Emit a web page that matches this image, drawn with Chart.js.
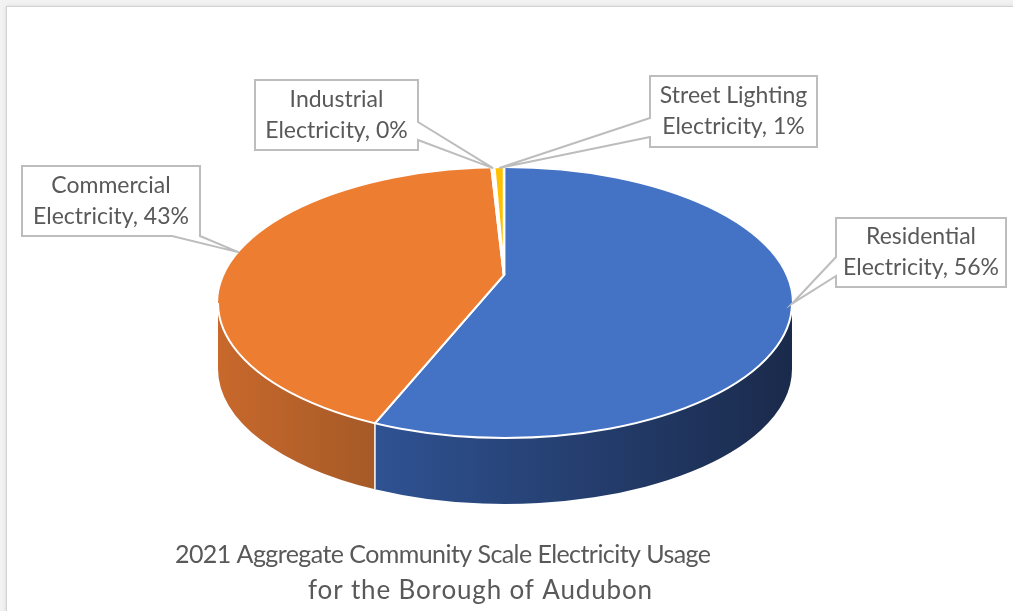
<!DOCTYPE html>
<html><head><meta charset="utf-8">
<script src="https://cdn.jsdelivr.net/npm/chart.js@4.4.1/dist/chart.umd.min.js"></script>
<style>
html,body{margin:0;padding:0;background:#f2f2f2;width:1013px;height:611px;overflow:hidden}
#frame{position:absolute;left:6px;top:6px;width:1013px;height:611px;background:#fff;border-left:1px solid #d2d2d2;border-top:1px solid #d2d2d2;box-shadow:0 0 4px rgba(0,0,0,0.10)}
canvas{position:absolute;left:0;top:0}
</style></head><body>
<div id="frame"></div>
<canvas id="c" width="1013" height="611"></canvas>
<script>
// ---- data ----
const categories = ['Residential Electricity', 'Commercial Electricity', 'Industrial Electricity', 'Street Lighting Electricity'];
const values = [56.4, 42.7, 0.2, 0.7];
const topColors = ['#4472C4', '#ED7D31', '#A5A5A5', '#FFC000'];
const sideLight = ['#2F5292', '#C8682C', '#8a8a8a', '#d9a300'];
const sideDark = ['#1A2A4B', '#A55A27', '#6e6e6e', '#b88a00'];
const titleLines = ['2021 Aggregate Community Scale Electricity Usage', 'for the Borough of Audubon'];

// ---- layout (positions/styles only) ----
const ELL = {cx: 505, cy: 303, rx: 287, ry: 135, depth: 66};   // visible top ellipse
const PROJ = {px: 504, py: 275, rx: 358, ry: 175};             // perspective apex of the top face
const callouts = [
  {box: {x: 836, y: 218, w: 170, h: 69}, side: 'left', p1: 257, p2: 276, angleOffset: 0},
  {box: {x: 22, y: 166, w: 178, h: 70}, side: 'bottom', p1: 172, p2: 200, angleOffset: 0},
  {box: {x: 255, y: 80, w: 163, h: 70}, side: 'right', p1: 122, p2: 140, angleOffset: 0},
  {box: {x: 650, y: 76, w: 167, h: 71}, side: 'left', p1: 118, p2: 137, angleOffset: 0}
];
const FONT = 'Lato, "Open Sans", sans-serif';
const TEXT_COLOR = '#595959';
const TITLE = {size: 25, lines: [{cx: 443, cy: 555, w: 536}, {cx: 480, cy: 591, w: 344}]};

function ePt(t, dy) { return {x: ELL.cx + ELL.rx * Math.cos(t), y: ELL.cy + ELL.ry * Math.sin(t) + (dy || 0)}; }
// where a slice edge at library angle theta meets the visible ellipse (ellipse parameter)
function projT(theta) {
  const ux = PROJ.rx * Math.cos(theta) / ELL.rx, uy = PROJ.ry * Math.sin(theta) / ELL.ry;
  const ox = (PROJ.px - ELL.cx) / ELL.rx, oy = (PROJ.py - ELL.cy) / ELL.ry;
  const A = ux * ux + uy * uy, B = 2 * (ox * ux + oy * uy), C = ox * ox + oy * oy - 1;
  const s = (-B + Math.sqrt(B * B - 4 * A * C)) / (2 * A);
  let t = Math.atan2(oy + s * uy, ox + s * ux);
  while (t < theta - Math.PI) t += 2 * Math.PI;
  while (t > theta + Math.PI) t -= 2 * Math.PI;
  return t;
}

const pie3d = {
  id: 'pie3d',
  beforeDatasetsDraw(chart) {
    const ctx = chart.ctx;
    const meta = chart.getDatasetMeta(0);
    const D = ELL.depth;
    meta.data.forEach((arc, i) => {
      const p = arc.getProps(['startAngle', 'endAngle'], true);
      const s = Math.max(projT(p.startAngle), 0), e = Math.min(projT(p.endAngle), Math.PI);
      if (e <= s) return;
      const a = ePt(s), b = ePt(e);
      const g = ctx.createLinearGradient(Math.min(a.x, b.x), 0, Math.max(a.x, b.x), 0);
      g.addColorStop(0, sideLight[i]);
      g.addColorStop(1, sideDark[i]);
      ctx.save();
      ctx.beginPath();
      ctx.moveTo(a.x, a.y);
      ctx.ellipse(ELL.cx, ELL.cy, ELL.rx, ELL.ry, 0, s, e, false);
      ctx.lineTo(b.x, b.y + D);
      ctx.ellipse(ELL.cx, ELL.cy + D, ELL.rx, ELL.ry, 0, e, s, true);
      ctx.closePath();
      ctx.fillStyle = g;
      ctx.fill();
      ctx.restore();
    });
    meta.data.forEach((arc) => {
      const t = projT(arc.getProps(['startAngle'], true).startAngle);
      if (t > 0.02 && t < Math.PI - 0.02) {
        const a = ePt(t);
        ctx.save();
        ctx.strokeStyle = '#ffffff';
        ctx.lineWidth = 1.5;
        ctx.beginPath();
        ctx.moveTo(a.x, a.y);
        ctx.lineTo(a.x, a.y + D);
        ctx.stroke();
        ctx.restore();
      }
    });
    // top face: clip to the visible ellipse, draw the library's arcs from the apex
    const a0 = meta.data[0].getProps(['x', 'y', 'outerRadius'], true);
    ctx.save();
    ctx.beginPath();
    ctx.ellipse(ELL.cx, ELL.cy, ELL.rx, ELL.ry, 0, 0, Math.PI * 2);
    ctx.clip();
    ctx.translate(PROJ.px, PROJ.py);
    ctx.scale(PROJ.rx / a0.outerRadius, PROJ.ry / a0.outerRadius);
    ctx.translate(-a0.x, -a0.y);
  },
  afterDatasetsDraw(chart) {
    const ctx = chart.ctx;
    ctx.restore();
    ctx.save();
    ctx.strokeStyle = '#ffffff';
    ctx.lineWidth = 2;
    ctx.beginPath();
    ctx.ellipse(ELL.cx, ELL.cy, ELL.rx, ELL.ry, 0, 0, Math.PI);
    ctx.stroke();
    ctx.restore();
  },
  afterDraw(chart) {
    const ctx = chart.ctx;
    const meta = chart.getDatasetMeta(0);
    const sum = values.reduce((p, v) => p + v, 0);
    meta.data.forEach((arc, i) => {
      const c = callouts[i];
      const p = arc.getProps(['startAngle', 'endAngle'], true);
      const mid = projT((p.startAngle + p.endAngle) / 2) + c.angleOffset * Math.PI / 180;
      const tip = ePt(mid);
      const {x, y, w, h} = c.box;
      ctx.save();
      ctx.beginPath();
      if (c.side === 'left') {
        ctx.moveTo(x, y); ctx.lineTo(x + w, y); ctx.lineTo(x + w, y + h); ctx.lineTo(x, y + h);
        ctx.lineTo(x, c.p2); ctx.lineTo(tip.x, tip.y); ctx.lineTo(x, c.p1);
      } else if (c.side === 'right') {
        ctx.moveTo(x, y); ctx.lineTo(x + w, y); ctx.lineTo(x + w, c.p1); ctx.lineTo(tip.x, tip.y);
        ctx.lineTo(x + w, c.p2); ctx.lineTo(x + w, y + h); ctx.lineTo(x, y + h);
      } else {
        ctx.moveTo(x, y); ctx.lineTo(x + w, y); ctx.lineTo(x + w, y + h); ctx.lineTo(c.p2, y + h);
        ctx.lineTo(tip.x, tip.y); ctx.lineTo(c.p1, y + h); ctx.lineTo(x, y + h);
      }
      ctx.closePath();
      ctx.fillStyle = '#ffffff';
      ctx.fill();
      ctx.strokeStyle = '#BDBDBD';
      ctx.lineWidth = 2;
      ctx.lineJoin = 'miter';
      ctx.stroke();
      const name = categories[i];
      const k = name.lastIndexOf(' ');
      const l1 = name.slice(0, k), l2 = name.slice(k + 1) + ', ' + Math.round(values[i] / sum * 100) + '%';
      ctx.fillStyle = TEXT_COLOR;
      ctx.font = '23px ' + FONT;
      ctx.textAlign = 'center';
      ctx.textBaseline = 'middle';
      ctx.fillText(l1, x + w / 2, y + h / 2 - 15.5);
      ctx.fillText(l2, x + w / 2, y + h / 2 + 15.5);
      ctx.restore();
    });
    ctx.save();
    ctx.fillStyle = TEXT_COLOR;
    ctx.textAlign = 'left';
    ctx.textBaseline = 'middle';
    titleLines.forEach((txt, j) => {
      const L = TITLE.lines[j];
      ctx.font = (j === 0 ? TITLE.size : TITLE.size + 1) + 'px ' + FONT;
      ctx.letterSpacing = '0px';
      const w0 = ctx.measureText(txt).width;
      let ls = (L.w - w0) / (txt.length - 1);
      ls = Math.max(-0.8, Math.min(0.9, ls));
      ctx.letterSpacing = ls.toFixed(2) + 'px';
      const w1 = w0 + ls * (txt.length - 1);
      ctx.fillText(txt, L.cx - w1 / 2, L.cy);
    });
    ctx.restore();
  }
};

new Chart(document.getElementById('c'), {
  type: 'pie',
  data: {
    labels: categories,
    datasets: [{
      data: values,
      backgroundColor: topColors,
      borderColor: '#ffffff',
      borderWidth: 2
    }]
  },
  options: {
    responsive: false,
    animation: false,
    devicePixelRatio: 1,
    layout: {padding: {top: 18, bottom: 19, left: 218, right: 221}},
    plugins: {legend: {display: false}, tooltip: {enabled: false}, title: {display: false}}
  },
  plugins: [pie3d]
});
</script>
</body></html>
